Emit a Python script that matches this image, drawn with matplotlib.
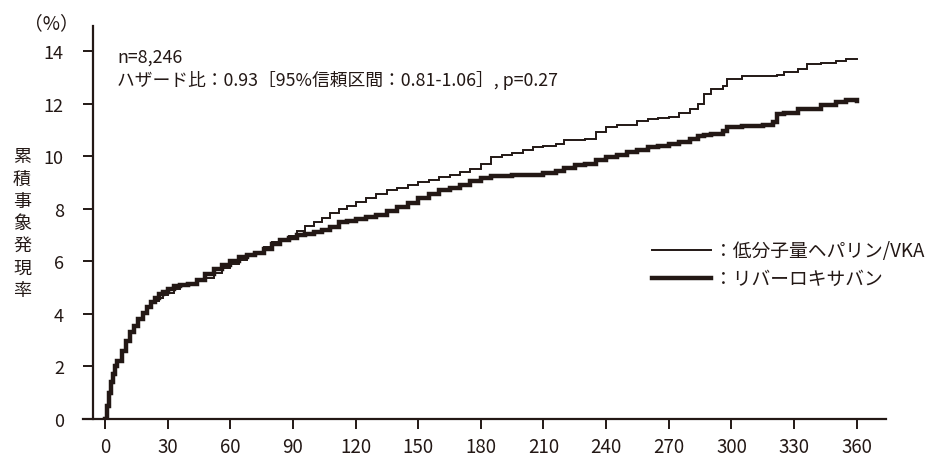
import matplotlib
matplotlib.use("Agg")
import matplotlib.pyplot as plt

plt.rcParams['font.family'] = ['Noto Sans CJK JP', 'DejaVu Sans']

days = [0, 1, 2, 3, 4, 5, 6, 8, 10, 12, 14, 16, 18, 20, 22, 24, 26, 28, 30, 33, 36, 40,
        44, 48, 52, 56, 60, 64, 68, 72, 76, 80, 84, 88, 92, 96, 100, 104, 108, 112, 116,
        120, 125, 130, 135, 140, 145, 150, 155, 160, 165, 170, 175, 180, 185, 190, 195,
        200, 205, 210, 216, 220, 225, 230, 235, 240, 245, 250, 255, 260, 265, 270, 275,
        280, 284, 287, 290, 296, 298, 305, 315, 320, 322, 325, 332, 336, 343, 350, 355, 360]

lmwh_vka = [0, 0.5, 1.0, 1.4, 1.7, 2.0, 2.2, 2.6, 2.95, 3.3, 3.55, 3.8, 4.05, 4.25, 4.4,
            4.5, 4.6, 4.7, 4.8, 4.95, 5.05, 5.15, 5.25, 5.35, 5.55, 5.75, 5.9, 6.05, 6.2,
            6.35, 6.55, 6.75, 6.85, 6.95, 7.15, 7.35, 7.5, 7.65, 7.85, 8.0, 8.1, 8.25, 8.4,
            8.55, 8.7, 8.8, 8.9, 9.0, 9.1, 9.2, 9.3, 9.4, 9.5, 9.7, 9.95, 10.05, 10.1,
            10.25, 10.35, 10.4, 10.45, 10.6, 10.6, 10.65, 10.9, 11.1, 11.2, 11.2, 11.35,
            11.4, 11.45, 11.5, 11.65, 11.8, 12.0, 12.35, 12.55, 12.65, 12.95, 13.05, 13.05,
            13.05, 13.1, 13.2, 13.3, 13.5, 13.55, 13.6, 13.7, 13.7]

rivaroxaban = [0, 0.5, 1.0, 1.4, 1.7, 2.0, 2.2, 2.6, 2.95, 3.3, 3.55, 3.8, 4.05, 4.25, 4.45,
               4.6, 4.75, 4.85, 4.95, 5.05, 5.1, 5.15, 5.3, 5.5, 5.7, 5.85, 6.0, 6.15, 6.25,
               6.3, 6.45, 6.65, 6.8, 6.9, 7.0, 7.05, 7.1, 7.2, 7.3, 7.5, 7.55, 7.6, 7.7,
               7.75, 7.9, 8.05, 8.2, 8.4, 8.55, 8.7, 8.8, 8.9, 9.05, 9.15, 9.25, 9.25, 9.3,
               9.3, 9.3, 9.35, 9.45, 9.55, 9.65, 9.7, 9.85, 9.95, 10.05, 10.15, 10.25, 10.35,
               10.4, 10.45, 10.55, 10.65, 10.75, 10.8, 10.85, 10.95, 11.1, 11.15, 11.18,
               11.3, 11.6, 11.65, 11.8, 11.8, 11.95, 12.05, 12.15, 12.1]

xticks = [0, 30, 60, 90, 120, 150, 180, 210, 240, 270, 300, 330, 360]
yticks = [0, 2, 4, 6, 8, 10, 12, 14]
label_vka = "：低分子量ヘパリン/VKA"
label_riva = "：リバーロキサバン"
ylabel = "累積事象発現率"
note1 = "n=8,246"
note2 = "ハザード比：0.93［95%信頼区間：0.81-1.06］, p=0.27"

C = '#231815'

fig = plt.figure(figsize=(9.29, 4.56), dpi=100)
ax = fig.add_axes([83/929, 1-420/456, (886-83)/929, (420-27)/456])
ax.set_xlim(-10.5, 374)
ax.set_ylim(0, 14.95)

ax.plot(days, lmwh_vka, drawstyle='steps-post', color=C, lw=1.4, solid_joinstyle='miter')
ax.plot(days, rivaroxaban, drawstyle='steps-post', color=C, lw=3.2, solid_joinstyle='miter')

for s in ['top', 'right']:
    ax.spines[s].set_visible(False)
ax.spines['left'].set_position(('data', -5.7))
ax.spines['left'].set_color(C)
ax.spines['bottom'].set_color(C)
ax.spines['left'].set_linewidth(1.6)
ax.spines['bottom'].set_linewidth(1.6)

ax.set_xticks(xticks)
ax.set_xticklabels([str(t) for t in xticks])
ax.set_yticks(yticks)
ax.set_yticklabels([str(t) for t in yticks])
ax.tick_params(axis='both', direction='out', length=7, width=1.4, color=C,
               labelcolor=C)
ax.tick_params(axis='x', pad=5, labelsize=13.5)
ax.tick_params(axis='y', pad=14, labelsize=13)

# legend (manual)
lx0, lx1 = 652, 711
fig.add_artist(plt.Line2D([lx0/929, lx1/929], [1-251/456, 1-251/456], color=C, lw=1.4))
fig.add_artist(plt.Line2D([lx0/929, lx1/929], [1-279/456, 1-279/456], color=C, lw=3.2))
fig.text(714/929, 1-251/456, label_vka, fontsize=13.5, color=C, va='center', ha='left')
fig.text(714/929, 1-279/456, label_riva, fontsize=13.5, color=C, va='center', ha='left')

fig.text(117/929, 1-58/456, note1, fontsize=12.8, color=C, va='center', ha='left')
fig.text(117/929, 1-81/456, note2, fontsize=12.8, color=C, va='center', ha='left')

fig.text(51/929, 1-24/456, "（%）", fontsize=13.5, color=C, va='center', ha='center')
fig.text(22/929, 1-224/456, "\n".join(ylabel), fontsize=13, color=C, va='center',
         ha='center', linespacing=1.3)

fig.savefig('out.png', dpi=100)
